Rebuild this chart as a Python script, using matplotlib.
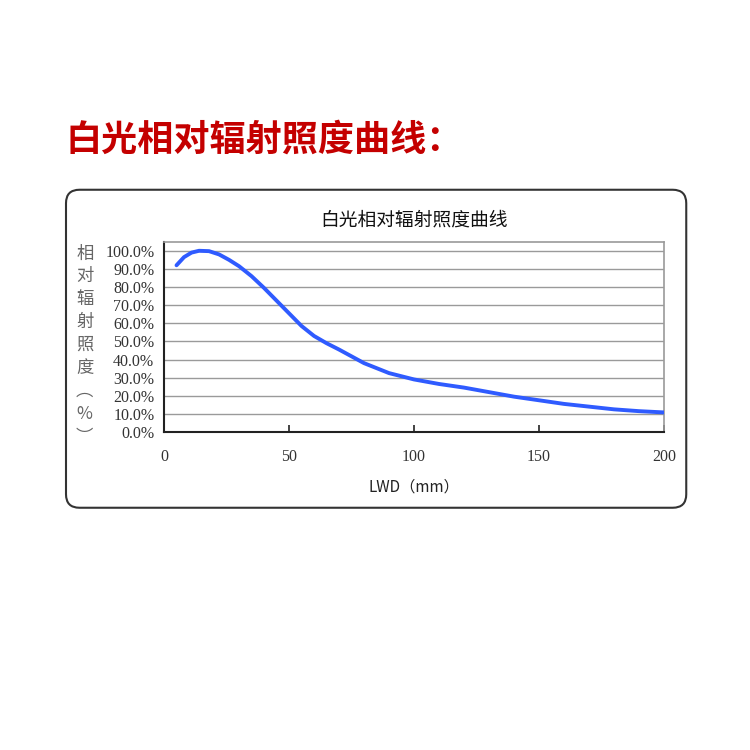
import matplotlib
matplotlib.use("Agg")
import matplotlib.pyplot as plt
from matplotlib.patches import FancyBboxPatch
from matplotlib.ticker import FuncFormatter

# LWD (mm) vs relative irradiance (%)
lwd = [5, 8, 11, 14, 18, 22, 26, 30, 35, 40, 45, 50, 55, 60, 65, 70,
       80, 90, 100, 110, 120, 130, 140, 150, 160, 170, 180, 190, 200]
irradiance = [92, 96.5, 99, 100, 99.8, 98, 95, 91.5, 86, 79.5, 72.5, 65.5,
              58.5, 53, 49, 45.5, 38, 32.5, 29, 26.5, 24.5, 22, 19.5, 17.5,
              15.5, 14, 12.5, 11.5, 10.8]
x_ticks = [0, 50, 100, 150, 200]
y_ticks = [0, 10, 20, 30, 40, 50, 60, 70, 80, 90, 100]

heading = "白光相对辐射照度曲线："
chart_title = "白光相对辐射照度曲线"
y_label = ["相", "对", "辐", "射", "照", "度", "︵", "%", "︶"]
x_label = "LWD（mm）"

cjk = ["Noto Sans CJK SC", "DejaVu Sans"]
serif = ["Liberation Serif", "Noto Sans CJK SC"]

fig = plt.figure(figsize=(7.5, 7.5), dpi=100)
fig.patch.set_facecolor("white")

# big red heading
fig.text(0.088, 0.813, heading, color="#c40000", fontsize=26, fontweight="bold",
         family=cjk, ha="left", va="center")

# rounded frame around the chart
frame = FancyBboxPatch((0.088, 0.323), 0.827, 0.424,
                       boxstyle="round,pad=0,rounding_size=0.018",
                       transform=fig.transFigure, facecolor="white",
                       edgecolor="#333333", linewidth=1.5, zorder=0)
fig.patches.append(frame)

ax = fig.add_axes([0.2187, 0.424, 0.6667, 0.2537])
ax.set_zorder(2)
ax.plot(lwd, [v / 100 for v in irradiance], color="#2f5bff", linewidth=2.8,
        solid_capstyle="round", zorder=3)

ax.set_xlim(0, 200)
ax.set_ylim(0, 1.05)
ax.set_xticks(x_ticks)
ax.set_yticks([v / 100 for v in y_ticks])
ax.yaxis.set_major_formatter(FuncFormatter(lambda v, p: f"{v * 100:.1f}%"))
ax.grid(axis="y", color="#9a9a9a", linewidth=1.0)
ax.set_axisbelow(True)

ax.tick_params(axis="x", direction="in", length=5, width=1.2, color="#222222",
               pad=12, labelsize=11.5)
ax.tick_params(axis="y", length=0, pad=7, labelsize=11.5)
for lbl in ax.get_xticklabels() + ax.get_yticklabels():
    lbl.set_family(serif)
    lbl.set_color("#333333")

for side in ["top", "right"]:
    ax.spines[side].set_color("#9a9a9a")
    ax.spines[side].set_linewidth(1.2)
for side in ["left", "bottom"]:
    ax.spines[side].set_color("#222222")
    ax.spines[side].set_linewidth(1.5)

ax.set_title(chart_title, family=cjk, fontsize=13.5, color="#111111", pad=12)
ax.set_xlabel(x_label, family=cjk, fontsize=11, color="#222222", labelpad=10)

fig.text(0.113, 0.54, "\n".join(y_label), family=cjk, fontsize=12.5,
         color="#666666", ha="center", va="center", linespacing=1.35,
         zorder=3)

fig.savefig("out.png", dpi=100, facecolor="white")
